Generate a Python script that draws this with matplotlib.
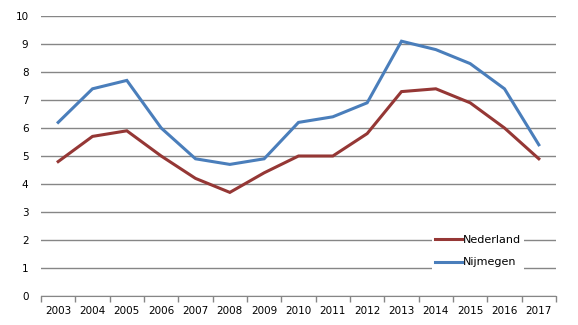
import numpy as np
import matplotlib
matplotlib.use("Agg")
import matplotlib.pyplot as plt

# Gegevens
jaren = ['2003', '2004', '2005', '2006', '2007', '2008', '2009', '2010',
         '2011', '2012', '2013', '2014', '2015', '2016', '2017']
nederland = [4.8, 5.7, 5.9, 5.0, 4.2, 3.7, 4.4, 5.0, 5.0, 5.8, 7.3, 7.4, 6.9, 6.0, 4.9]
nijmegen = [6.2, 7.4, 7.7, 6.0, 4.9, 4.7, 4.9, 6.2, 6.4, 6.9, 9.1, 8.8, 8.3, 7.4, 5.4]

W, H = 578, 325
fig = plt.figure(figsize=(W / 100, H / 100), dpi=100)
ax = fig.add_axes([41 / W, 29 / H, (556 - 41) / W, (296 - 16) / H])

x = np.arange(len(jaren))
ax.plot(x, nederland, color='#953735', linewidth=2.2, label='Nederland', solid_joinstyle='miter')
ax.plot(x, nijmegen, color='#4a7ebb', linewidth=2.2, label='Nijmegen', solid_joinstyle='miter')

ax.set_xlim(-0.5, len(jaren) - 0.5)
ax.set_ylim(0, 10)
ax.set_yticks(range(0, 11))
ax.yaxis.grid(True, color='#868686', linewidth=1)
ax.set_axisbelow(True)

ax.set_xticks(x)
ax.set_xticklabels(jaren)
ax.set_xticks(np.arange(-0.5, len(jaren)), minor=True)
ax.tick_params(axis='x', which='major', length=0, labelsize=7.5, pad=7)
ax.tick_params(axis='x', which='minor', length=4, color='#868686', width=1)
ax.tick_params(axis='y', length=0, labelsize=7.5, pad=9)

for s in ['top', 'right', 'left']:
    ax.spines[s].set_visible(False)
ax.spines['bottom'].set_color('#868686')

leg = ax.legend(loc='center left', bbox_to_anchor=((426 - 41) / (556 - 41), 1 - (251 - 16) / (296 - 16)),
                frameon=True, fontsize=8, handlelength=2.4, handletextpad=0.1,
                labelspacing=1.15, borderpad=0.3, fancybox=False)
leg.get_frame().set_edgecolor('none')
leg.get_frame().set_facecolor('white')
leg.get_frame().set_alpha(1)

fig.savefig('out.png', dpi=100)
